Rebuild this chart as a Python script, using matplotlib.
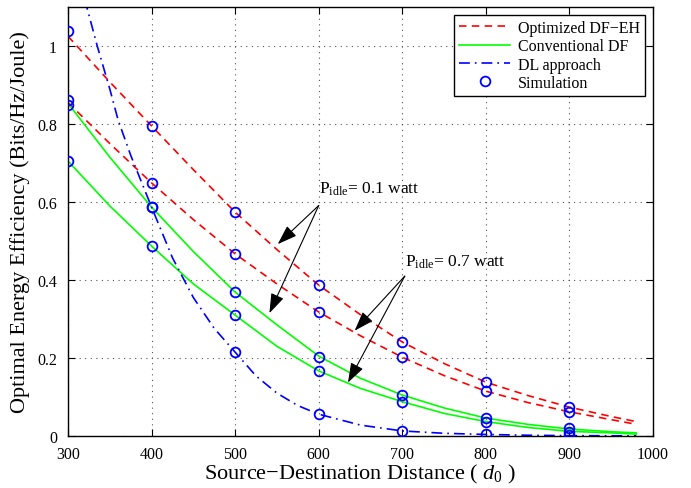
import matplotlib
matplotlib.use('Agg')
import matplotlib.pyplot as plt
from matplotlib.lines import Line2D

plt.rcParams['font.family'] = ['Liberation Serif', 'DejaVu Serif']
plt.rcParams['mathtext.fontset'] = 'custom'
plt.rcParams['mathtext.rm'] = 'Liberation Serif'
plt.rcParams['mathtext.it'] = 'Liberation Serif:italic'

# Analytical energy-efficiency curves versus source-destination distance
d_curve = [300, 350, 400, 450, 500, 550, 600, 650, 700, 750, 800, 850, 900, 950, 980]
opt_p01 = [1.025, 0.908, 0.795, 0.683, 0.574, 0.478, 0.387, 0.311, 0.241, 0.186, 0.138, 0.104, 0.074, 0.050, 0.037]
opt_p07 = [0.855, 0.750, 0.649, 0.555, 0.467, 0.390, 0.318, 0.257, 0.202, 0.155, 0.115, 0.086, 0.062, 0.042, 0.030]
conv_p01 = [0.853, 0.715, 0.587, 0.473, 0.369, 0.285, 0.205, 0.148, 0.105, 0.072, 0.046, 0.030, 0.018, 0.011, 0.008]
conv_p07 = [0.705, 0.590, 0.487, 0.390, 0.310, 0.230, 0.167, 0.122, 0.088, 0.058, 0.037, 0.022, 0.012, 0.008, 0.005]

d_dl = [320, 335, 350, 360, 375, 400, 425, 450, 475, 500, 525, 550, 575, 600,
        650, 700, 750, 800, 850, 900, 950, 980]
dl = [1.12, 1.0, 0.89, 0.81, 0.72, 0.587, 0.457, 0.355, 0.276, 0.215, 0.154, 0.110, 0.078, 0.056,
      0.028, 0.013, 0.007, 0.004, 0.002, 0.001, 0.0007, 0.0005]

# Monte-Carlo simulation points
d_sim = [300, 400, 500, 600, 700, 800, 900]
sim_opt_p01 = [1.038, 0.795, 0.574, 0.387, 0.242, 0.139, 0.074]
sim_opt_p07 = [0.862, 0.649, 0.467, 0.318, 0.202, 0.115, 0.062]
sim_conv_p01 = [0.849, 0.587, 0.369, 0.203, 0.105, 0.046, 0.020]
sim_conv_p07 = [0.706, 0.487, 0.311, 0.167, 0.088, 0.037, 0.011]
d_sim_dl = [400, 500, 600, 700, 800, 900]
sim_dl = [0.587, 0.215, 0.056, 0.012, 0.004, 0.003]

x_ticks = [300, 400, 500, 600, 700, 800, 900, 1000]
y_ticks = [0, 0.2, 0.4, 0.6, 0.8, 1.0]
y_tick_labels = ['0', '0.2', '0.4', '0.6', '0.8', '1']

fig = plt.figure(figsize=(6.91, 4.89), dpi=100)
ax = fig.add_axes([0.0984, 0.1063, 0.8466, 0.8773])

red_ls = (0, (4.5, 3.2))
dl_ls = (0, (6.5, 3, 1, 3))
lw = 1.2

ax.plot(d_curve, opt_p01, color='#FF0000', lw=lw, ls=red_ls)
ax.plot(d_curve, opt_p07, color='#FF0000', lw=lw, ls=red_ls)
ax.plot(d_curve, conv_p01, color='#00FF00', lw=lw, ls='-')
ax.plot(d_curve, conv_p07, color='#00FF00', lw=lw, ls='-')
ax.plot(d_dl, dl, color='#0000FF', lw=lw, ls=dl_ls)

mk = dict(ls='none', marker='o', ms=7, mfc='none', mec='#0000FF', mew=1.3, zorder=5)
for ys in (sim_opt_p01, sim_opt_p07, sim_conv_p01, sim_conv_p07):
    ax.plot(d_sim, ys, **mk)
ax.plot(d_sim_dl, sim_dl, **mk)

ax.set_xlim(300, 1000)
ax.set_ylim(0, 1.1)
ax.set_xticks(x_ticks)
ax.set_yticks(y_ticks)
ax.set_yticklabels(y_tick_labels)
ax.tick_params(direction='in', length=5, width=0.8, labelsize=11.5,
               top=True, right=True)
ax.tick_params(axis='x', pad=7)
ax.tick_params(axis='y', pad=8)
ax.grid(True, ls=(0, (1, 4)), color='#555555', lw=0.8)
for s in ax.spines.values():
    s.set_linewidth(1.0)

ax.set_xlabel('Source\u2212Destination Distance ( $d_{\\mathit{0}}$ )', fontsize=16, labelpad=0)
ax.set_ylabel('Optimal Energy Efficiency (Bits/Hz/Joule)', fontsize=16, labelpad=5)

# P_idle annotations
arrow = dict(arrowstyle='-|>,head_length=1.1,head_width=0.38', color='k', lw=0.8,
             mutation_scale=11, shrinkA=0, shrinkB=0)
ax.text(600, 0.623, r'$\mathrm{P_{idle}}$= 0.1 watt', fontsize=12.5)
ax.annotate('', xy=(551, 0.492), xytext=(600, 0.591), arrowprops=arrow)
ax.annotate('', xy=(541, 0.315), xytext=(600, 0.591), arrowprops=arrow)
ax.text(703, 0.438, r'$\mathrm{P_{idle}}$= 0.7 watt', fontsize=12.5)
ax.annotate('', xy=(643, 0.270), xytext=(703, 0.410), arrowprops=arrow)
ax.annotate('', xy=(635, 0.137), xytext=(703, 0.410), arrowprops=arrow)

handles = [
    Line2D([], [], color='#FF0000', lw=lw, ls=red_ls),
    Line2D([], [], color='#00FF00', lw=lw, ls='-'),
    Line2D([], [], color='#0000FF', lw=lw, ls=dl_ls),
    Line2D([], [], ls='none', marker='o', ms=7, mfc='none', mec='#0000FF', mew=1.3),
]
labels = ['Optimized DF\u2212EH', 'Conventional DF', 'DL approach', 'Simulation']
leg = ax.legend(handles, labels, loc='upper right', fontsize=11.5, frameon=True,
                fancybox=False, edgecolor='k', framealpha=1, handlelength=3.2,
                labelspacing=0.15, borderaxespad=0.5, handletextpad=0.5, borderpad=0.3)
leg.get_frame().set_linewidth(1.0)

fig.savefig('out.png', dpi=100)
